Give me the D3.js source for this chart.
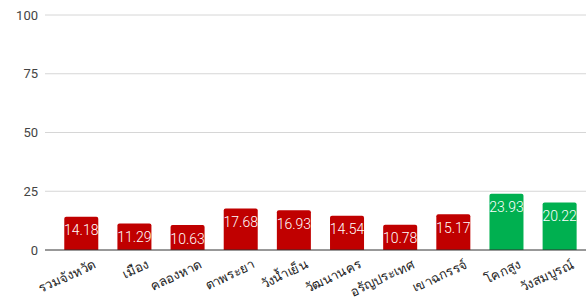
<!DOCTYPE html>
<html>
<head>
<meta charset="utf-8">
<script src="https://cdn.jsdelivr.net/npm/d3@7"></script>
<style>
  body { margin: 0; background: #fff; }
  svg { display: block; font-family: Roboto, Arial, sans-serif; }
</style>
</head>
<body>
<svg id="chart" width="586" height="299"></svg>
<script>
const categories = ['รวมจังหวัด', 'เมือง', 'คลองหาด', 'ตาพระยา', 'วังน้ำเย็น', 'วัฒนานคร', 'อรัญประเทศ', 'เขาฉกรรจ์', 'โคกสูง', 'วังสมบูรณ์'];
const values = [14.18, 11.29, 10.63, 17.68, 16.93, 14.54, 10.78, 15.17, 23.93, 20.22];
const highlighted = ['โคกสูง', 'วังสมบูรณ์'];
const yTicks = [0, 25, 50, 75, 100];

const svg = d3.select('#chart');
const gridLeft = 45, gridRight = 586;

const x = d3.scaleBand()
    .domain(categories)
    .range([54.7, 586.2])
    .paddingInner(0.36)
    .paddingOuter(0.18);

const y = d3.scaleLinear()
    .domain([0, 100])
    .range([250, 15]);

// gridlines
svg.append('g')
    .selectAll('line')
    .data(yTicks.filter(d => d > 0))
    .join('line')
    .attr('x1', gridLeft)
    .attr('x2', gridRight)
    .attr('y1', d => y(d))
    .attr('y2', d => y(d))
    .attr('stroke', '#d6d6d6')
    .attr('stroke-width', 1);

// y tick labels
svg.append('g')
    .selectAll('text')
    .data(yTicks)
    .join('text')
    .attr('x', 38)
    .attr('y', d => y(d))
    .attr('dy', '0.35em')
    .attr('text-anchor', 'end')
    .attr('font-size', 13)
    .attr('fill', '#444')
    .text(d => d);

// bars with rounded top corners
function barPath(d) {
    let x0 = x(d.cat), w = x.bandwidth(), top = y(d.val), bottom = y(0), r = 2;
    return `M${x0},${bottom} L${x0},${top + r} Q${x0},${top} ${x0 + r},${top} L${x0 + w - r},${top} Q${x0 + w},${top} ${x0 + w},${top + r} L${x0 + w},${bottom} Z`;
}

const data = categories.map((c, i) => ({ cat: c, val: values[i] }));

svg.append('g')
    .selectAll('path')
    .data(data)
    .join('path')
    .attr('d', barPath)
    .attr('fill', d => highlighted.includes(d.cat) ? '#00b050' : '#c00000');

// value labels
svg.append('g')
    .selectAll('text')
    .data(data)
    .join('text')
    .attr('x', d => x(d.cat) + x.bandwidth() / 2)
    .attr('y', d => y(d.val) + 18.5)
    .attr('text-anchor', 'middle')
    .attr('font-size', 14)
    .attr('font-weight', 300)
    .attr('fill', '#fff')
    .text(d => d.val.toFixed(2));

// baseline
svg.append('line')
    .attr('x1', gridLeft)
    .attr('x2', gridRight)
    .attr('y1', y(0))
    .attr('y2', y(0))
    .attr('stroke', '#333')
    .attr('stroke-width', 1);

// slanted category labels
svg.append('g')
    .selectAll('text')
    .data(categories)
    .join('text')
    .attr('transform', d => `translate(${x(d) + x.bandwidth() / 2 + 15},${267.5}) rotate(-25)`)
    .attr('text-anchor', 'end')
    .attr('font-size', 13)
    .attr('fill', '#222')
    .text(d => d);
</script>
</body>
</html>
